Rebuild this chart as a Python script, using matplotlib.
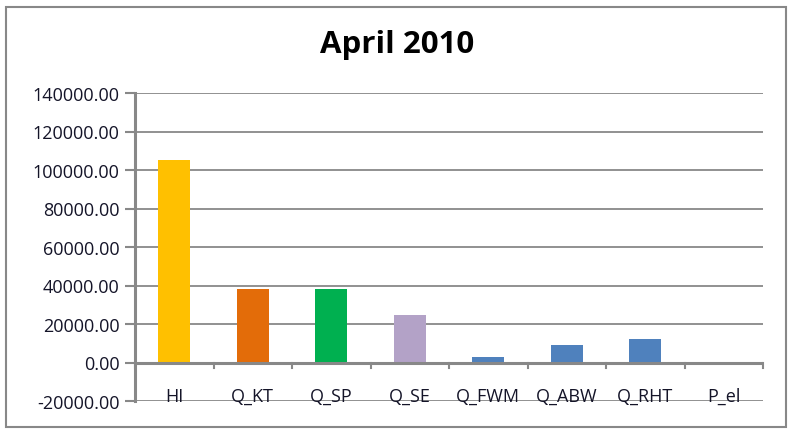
import matplotlib.pyplot as plt
from matplotlib.patches import Rectangle
import numpy as np

categories = ["HI", "Q_KT", "Q_SP", "Q_SE", "Q_FWM", "Q_ABW", "Q_RHT", "P_el"]
values = [105000, 38000, 38000, 24500, 3100, 8900, 12000, 0]
bar_colors = ["#FFC000", "#E36C09", "#00B050", "#B3A2C7",
              "#4F81BD", "#4F81BD", "#4F81BD", "#4F81BD"]
y_ticks = [-20000, 0, 20000, 40000, 60000, 80000, 100000, 120000, 140000]

plt.rcParams['font.family'] = ['Open Sans', 'DejaVu Sans']

fig = plt.figure(figsize=(7.94, 4.35), dpi=100)
ax = fig.add_axes([135/794, 1 - 402/435, 628/794, 308/435])

x = np.arange(len(categories))
ax.bar(x, values, width=0.41, color=bar_colors, zorder=3)

ax.set_xlim(-0.5, len(categories) - 0.5)
ax.set_ylim(-20000, 140000)
ax.set_yticks(y_ticks)
ax.set_yticklabels([f"{v:.2f}" for v in y_ticks], fontsize=13, color='#141428')
ax.tick_params(axis='y', length=7, width=1.5, color='#888888', pad=4)

# gridlines, zero line a bit heavier
for v in y_ticks:
    lw = 2.2 if v == 0 else 1.3
    ax.axhline(v, color='#888888', lw=lw, zorder=2 if v != 0 else 4)

# category tick marks on the zero line
for b in np.arange(-0.5, len(categories), 1.0):
    ax.plot([b, b], [0, -3000], color='#888888', lw=1.5, zorder=4, clip_on=False)

ax.set_xticks([])
for xi, lab in zip(x, categories):
    ax.text(xi, -20000, lab, ha='center', va='baseline', fontsize=13,
            color='#141428', zorder=5)

for s in ['top', 'right', 'bottom']:
    ax.spines[s].set_visible(False)
ax.spines['left'].set_color('#888888')
ax.spines['left'].set_linewidth(2.2)

fig.text(397/794, 1 - 45/435, "April 2010", ha='center', va='center',
         fontsize=22.5, fontweight='bold', color='black')

fig.patches.append(Rectangle((6/794, 1 - 428/435), 780/794, 420/435,
                             transform=fig.transFigure, fill=False,
                             edgecolor='#888888', lw=1.5))

fig.savefig('out.png', dpi=100)
